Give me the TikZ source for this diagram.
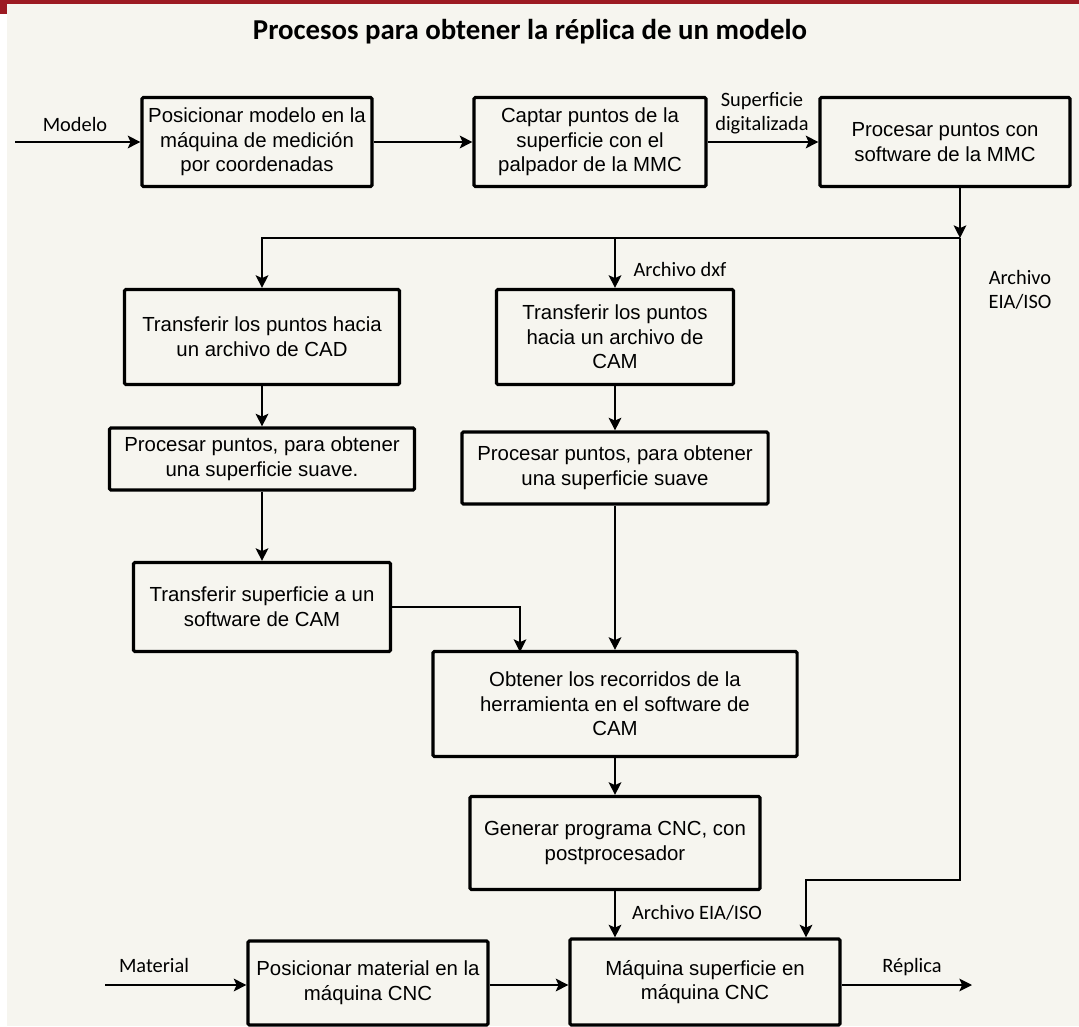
\documentclass[tikz,border=0pt]{standalone}
\usepackage{fontspec}
\setmainfont{Liberation Sans}
\newfontfamily\lblfont{Carlito}
\usetikzlibrary{arrows.meta}
\definecolor{paper}{HTML}{F6F5EF}
\definecolor{barred}{HTML}{9C1A22}

\begin{document}
\begin{tikzpicture}[x=0.025cm, y=-0.025cm,
  >={Stealth[length=9pt, width=9pt, inset=2pt]},
  every node/.style={font=\fontsize{14.5}{17.5}\selectfont},
  box/.style={draw, line width=2.2pt, rounded corners=1pt, fill=paper, align=center, inner sep=2pt},
  flow/.style={->, line width=1.3pt},
  lbl/.style={font=\lblfont\fontsize{14.5}{17}\selectfont, align=center, inner sep=1pt}]
  % page and top bar
  \fill[paper] (0,0) rectangle (1079,1026);
  \fill[white] (0,14) rectangle (7,1026);
  \fill[barred] (0,0) rectangle (1079,4);
  \fill[barred] (0,0) rectangle (7,14);
  \node[font=\lblfont\bfseries\fontsize{20.5}{24}\selectfont] (title) at (530,32) {Procesos para obtener la réplica de un modelo};
  % top row
  \node[box, minimum width=5.75cm, minimum height=2.225cm]  (posmod) at (257,142) {Posicionar modelo en la\\máquina de medición\\por coordenadas};
  \node[box, minimum width=5.8cm, minimum height=2.225cm]   (captar) at (590,142) {Captar puntos de la\\superficie con el\\palpador de la MMC};
  \node[box, minimum width=6.25cm, minimum height=2.225cm]  (procmmc) at (945,142) {Procesar puntos con\\software de la MMC};
  % CAD branch (left)
  \node[box, minimum width=6.875cm, minimum height=2.375cm] (tcad) at (262,337) {Transferir los puntos hacia\\un archivo de CAD};
  \node[box, minimum width=7.625cm, minimum height=1.55cm]  (pcad) at (262,459) {Procesar puntos, para obtener\\una superficie suave.};
  \node[box, minimum width=6.425cm, minimum height=2.225cm] (tsup) at (262,607) {Transferir superficie a un\\software de CAM};
  % CAM branch (middle)
  \node[box, minimum width=5.925cm, minimum height=2.375cm] (tcam) at (615,337) {Transferir los puntos\\hacia un archivo de\\CAM};
  \node[box, minimum width=7.65cm, minimum height=1.8cm]    (pcam) at (615,468) {Procesar puntos, para obtener\\una superficie suave};
  \node[box, minimum width=9.1cm, minimum height=2.625cm]   (recor) at (615,704) {Obtener los recorridos de la\\herramienta en el software de\\CAM};
  \node[box, minimum width=7.25cm, minimum height=2.325cm]  (gencnc) at (615,843) {Generar programa CNC, con\\postprocesador};
  % bottom row
  \node[box, minimum width=6cm, minimum height=2.1cm]       (posmat) at (368,983) {Posicionar material en la\\máquina CNC};
  \node[box, minimum width=6.75cm, minimum height=2.15cm]   (maq) at (705,982) {Máquina superficie en\\máquina CNC};
  % free ends and bends
  \coordinate (inmod) at (15,142);
  \coordinate (inmat) at (105,985);
  \coordinate (outrep) at (972,985);
  \coordinate (split) at (960,238);
  \coordinate (bend) at (806,880);
  \coordinate (join) at (520,652);
  % labels
  \node[lbl] (lmod) at (75,124) {Modelo};
  \node[lbl] (ldig) at (762,113) {Superficie\\digitalizada};
  \node[lbl] (ldxf) at (680,269) {Archivo dxf};
  \node[lbl] (liso) at (1020,290) {Archivo\\EIA/ISO};
  \node[lbl] (liso2) at (697,913) {Archivo EIA/ISO};
  \node[lbl] (lmat) at (154,965) {Material};
  \node[lbl] (lrep) at (912,967) {Réplica};
  % top row edges
  \draw[flow] (inmod) -- (posmod);
  \draw[flow] (posmod) -- (captar);
  \draw[flow] (captar) -- (procmmc);
  \draw[flow] (procmmc.south -| split) -- (split);
  % fan out
  \draw[flow] (split) -| (tcad.north);
  \draw[flow] (tcam.north |- split) -- (tcam.north);
  \draw[flow] (split) |- (bend) -- (bend |- maq.north);
  % left branch
  \draw[flow] (tcad) -- (pcad);
  \draw[flow] (pcad) -- (tsup);
  \draw[flow] (tsup.east) -| (join);
  % middle branch
  \draw[flow] (tcam) -- (pcam);
  \draw[flow] (pcam) -- (recor);
  \draw[flow] (recor) -- (gencnc);
  \draw[flow] (gencnc.south) -- (gencnc.south |- maq.north);
  % bottom row edges
  \draw[flow] (inmat) -- (inmat -| posmat.west);
  \draw[flow] (posmat.east |- inmat) -- (inmat -| maq.west);
  \draw[flow] (maq.east |- outrep) -- (outrep);
\end{tikzpicture}
\end{document}
